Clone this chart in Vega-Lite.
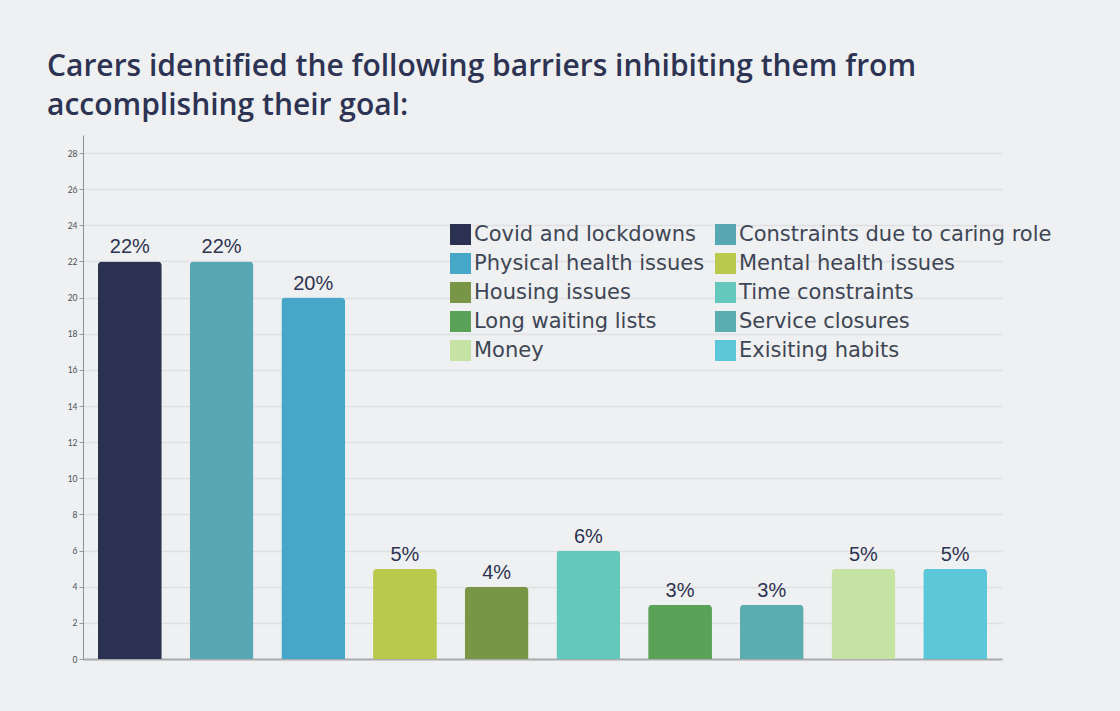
{
  "$schema": "https://vega.github.io/schema/vega-lite/v6.json",
  "width": 919,
  "height": 524,
  "autosize": {"type": "none"},
  "padding": {"left": 83, "top": 135, "right": 118, "bottom": 52},
  "background": "#eff0f2",
  "title": {
    "text": ["Carers identified the following barriers inhibiting them from", "accomplishing their goal:"],
    "anchor": "start",
    "frame": "group",
    "dx": -36,
    "offset": 14,
    "font": "Open Sans",
    "fontWeight": 600,
    "fontSize": 30,
    "lineHeight": 39,
    "color": "#2d3352"
  },
  "config": {
    "view": {"stroke": null},
    "axis": {"labelFont": "Lato"}
  },
  "data": {
    "values": [
      {"barrier": "Covid and lockdowns", "value": 22, "label": "22%"},
      {"barrier": "Constraints due to caring role", "value": 22, "label": "22%"},
      {"barrier": "Physical health issues", "value": 20, "label": "20%"},
      {"barrier": "Mental health issues", "value": 5, "label": "5%"},
      {"barrier": "Housing issues", "value": 4, "label": "4%"},
      {"barrier": "Time constraints", "value": 6, "label": "6%"},
      {"barrier": "Long waiting lists", "value": 3, "label": "3%"},
      {"barrier": "Service closures", "value": 3, "label": "3%"},
      {"barrier": "Money", "value": 5, "label": "5%"},
      {"barrier": "Exisiting habits", "value": 5, "label": "5%"}
    ]
  },
  "encoding": {
    "x": {
      "field": "barrier",
      "type": "nominal",
      "sort": null,
      "scale": {"paddingInner": 0.304, "paddingOuter": 0.163},
      "axis": {"labels": false, "ticks": false, "title": null, "domainColor": "#a9abae", "domainWidth": 2}
    },
    "y": {
      "field": "value",
      "type": "quantitative",
      "scale": {"domain": [0, 29], "nice": false},
      "axis": {
        "title": null,
        "values": [0, 2, 4, 6, 8, 10, 12, 14, 16, 18, 20, 22, 24, 26, 28],
        "labelFontSize": 8.5,
        "labelColor": "#4a4f56",
        "tickSize": 4,
        "tickColor": "#999",
        "domainColor": "#8c8e92",
        "gridColor": "#dfe0e3",
        "gridWidth": 1.5
      }
    }
  },
  "layer": [
    {
      "mark": {"type": "bar", "cornerRadiusTopLeft": 4, "cornerRadiusTopRight": 4},
      "encoding": {
        "color": {
          "field": "barrier",
          "type": "nominal",
          "sort": null,
          "scale": {
            "domain": ["Covid and lockdowns", "Constraints due to caring role", "Physical health issues", "Mental health issues", "Housing issues", "Time constraints", "Long waiting lists", "Service closures", "Money", "Exisiting habits"],
            "range": ["#2b3150", "#58a7b4", "#47a7c8", "#b8c94c", "#789646", "#64c8bc", "#5aa257", "#5aaeb0", "#c7e3a4", "#5bc7d8"]
          },
          "legend": {
            "title": null,
            "orient": "none",
            "direction": "horizontal",
            "legendX": 367,
            "legendY": 89,
            "columns": 2,
            "columnPadding": 10,
            "rowPadding": 7,
            "symbolType": "square",
            "symbolSize": 441,
            "symbolStrokeWidth": 0,
            "symbolOpacity": 1,
            "labelFont": "DejaVu Sans",
            "labelFontSize": 21,
            "labelColor": "#3e4655",
            "labelOffset": 3,
            "labelLimit": 400,
            "padding": 0
          }
        }
      }
    },
    {
      "mark": {"type": "text", "baseline": "alphabetic", "dy": -8, "font": "Liberation Sans", "fontSize": 20, "color": "#2d3350"},
      "encoding": {"text": {"field": "label"}}
    }
  ]
}
